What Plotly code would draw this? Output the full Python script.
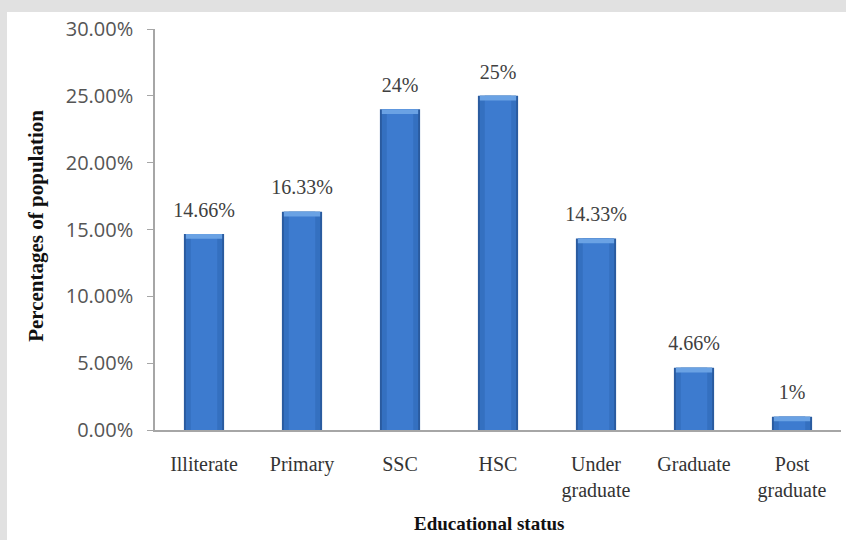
import plotly.graph_objects as go

categories = ["Illiterate", "Primary", "SSC", "HSC", "Under<br>graduate", "Graduate", "Post<br>graduate"]
values = [14.66, 16.33, 24, 25, 14.33, 4.66, 1]
value_labels = ["14.66%", "16.33%", "24%", "25%", "14.33%", "4.66%", "1%"]
y_ticks = [0, 5, 10, 15, 20, 25, 30]
y_tick_labels = ["0.00%", "5.00%", "10.00%", "15.00%", "20.00%", "25.00%", "30.00%"]

serif = "Liberation Serif, Times New Roman, serif"
sans = "Open Sans, Arial, sans-serif"

fig = go.Figure()
# simulated cylinder gradient: layered bars
layers = [(0.41, "#2a5b9f"), (0.37, "#3470c0"), (0.27, "#3d7bcf")]
for w, c in layers:
    fig.add_trace(go.Bar(x=categories, y=values, width=w, marker=dict(color=c, line=dict(width=0)),
                         hoverinfo="skip", showlegend=False))
# top highlight cap
cap = 0.35
fig.add_trace(go.Bar(x=categories, y=[cap] * len(values), base=[v - cap for v in values], width=0.37,
                     marker=dict(color="#6aa2e4", line=dict(width=0)), hoverinfo="skip", showlegend=False))
# labels
fig.add_trace(go.Scatter(x=categories, y=values, mode="markers+text", text=value_labels,
                         textposition="top center", marker=dict(size=18, opacity=0),
                         textfont=dict(family=serif, size=20, color="#404040"), hoverinfo="skip",
                         showlegend=False, cliponaxis=False))

fig.update_layout(
    width=846, height=540,
    barmode="overlay",
    paper_bgcolor="#e1e1e1",
    plot_bgcolor="white",
    margin=dict(l=155, r=5, t=29, b=110),
    shapes=[dict(type="rect", xref="paper", yref="paper", x0=-0.2157, x1=1.05, y0=-0.3, y1=1.0424,
                 fillcolor="white", line=dict(width=0), layer="below")],
    annotations=[
        dict(text="<b>Educational status</b>", xref="paper", yref="paper", x=0.487, y=-0.234,
             xanchor="center", yanchor="middle", showarrow=False,
             font=dict(family=serif, size=19, color="#111111")),
        dict(text="<b>Percentages of population</b>", xref="paper", yref="paper", x=-0.1735, y=0.509,
             xanchor="center", yanchor="middle", textangle=-90, showarrow=False,
             font=dict(family=serif, size=21, color="#111111")),
    ],
    xaxis=dict(range=[-0.5, 6.5], showline=True, linecolor="#a6a6a6", linewidth=1.5, ticks="",
               tickfont=dict(family=serif, size=20, color="#333333"), ticklabelstandoff=15,
               showgrid=False, zeroline=False, fixedrange=True),
    yaxis=dict(range=[0, 30], tickvals=y_ticks, ticktext=y_tick_labels, showline=True,
               linecolor="#a6a6a6", linewidth=1.5, ticks="outside", ticklen=6, tickcolor="#a6a6a6",
               tickfont=dict(family=sans, size=20, color="#555555"), ticklabelstandoff=10,
               showgrid=False, zeroline=False, fixedrange=True),
)

fig.write_html("out.html")
